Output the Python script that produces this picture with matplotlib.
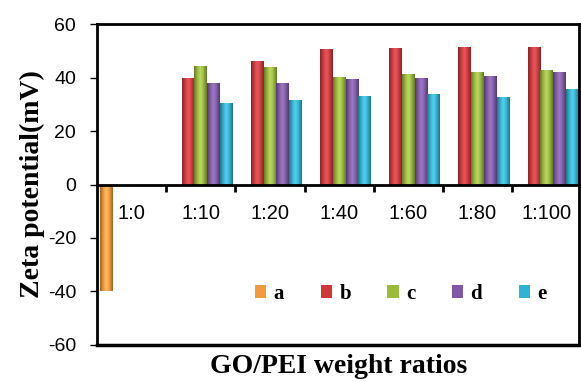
import numpy as np
import matplotlib
matplotlib.use("Agg")
import matplotlib.pyplot as plt
from matplotlib.colors import to_rgb

plt.rcParams['axes.unicode_minus'] = False

# zeta potential of GO/PEI samples
ratios = ['1:0', '1:10', '1:20', '1:40', '1:60', '1:80', '1:100']
series = ['a', 'b', 'c', 'd', 'e']
a_vals = [-40, np.nan, np.nan, np.nan, np.nan, np.nan, np.nan]
b_vals = [np.nan, 40.0, 46.2, 50.5, 51.2, 51.5, 51.5]
c_vals = [np.nan, 44.3, 44.0, 40.2, 41.5, 42.1, 42.8]
d_vals = [np.nan, 38.1, 38.1, 39.4, 40.0, 40.6, 42.0]
e_vals = [np.nan, 30.3, 31.5, 33.1, 34.0, 32.7, 35.6]
colors = ['#F39A3A', '#D0363A', '#9BBB3B', '#7F58A8', '#2FB3D3']

serif = ['Liberation Serif', 'DejaVu Serif']
sans = ['Liberation Sans', 'DejaVu Sans']

fig = plt.figure(figsize=(5.81, 3.82), dpi=100)
ax = fig.add_axes([0.167, 0.097, 0.83, 0.84])

x = np.arange(len(ratios))
w = 0.184
allvals = [a_vals, b_vals, c_vals, d_vals, e_vals]


def shade(bars, col):
    # cylinder-like shading: dark edges, light middle
    base = np.array(to_rgb(col))
    t = np.linspace(-1, 1, 40)
    f = 1 - 0.35 * np.abs(t) ** 1.5
    grad = np.clip(base[None, :] * f[:, None] + 0.12 * (1 - np.abs(t))[:, None], 0, 1)
    img = grad[None, :, :]
    for p in bars:
        h = p.get_height()
        if np.isnan(h):
            continue
        x0 = p.get_x()
        y0 = p.get_y()
        im = ax.imshow(img, extent=[x0, x0 + p.get_width(), min(y0, y0 + h), max(y0, y0 + h)],
                       aspect='auto', zorder=2.5, interpolation='bilinear')
        im.set_clip_path(p)


for i, (vals, col, name) in enumerate(zip(allvals, colors, series)):
    bars = ax.bar(x + (i - 2) * w, vals, w, color=col, label=name, zorder=2)
    shade(bars, col)

ax.set_xlim(-0.5, 6.47)
ax.set_ylim(-60, 60)
ax.set_yticks(np.arange(-60, 61, 20))
ax.tick_params(axis='y', direction='out', length=5, width=1, labelsize=14, pad=10)
for lab in ax.get_yticklabels():
    lab.set_family(sans)

# x axis sits on the zero line
ax.spines['bottom'].set_position(('data', 0))
ax.set_xticks(np.arange(len(ratios) - 1) + 0.5)
ax.set_xticklabels([])
ax.tick_params(axis='x', direction='out', length=5, width=2)
ax.set_xticks(x, minor=True)
ax.set_xticklabels(ratios, minor=True, fontsize=14.5, family=sans)
ax.tick_params(axis='x', which='minor', length=0, pad=14)
for s in ax.spines.values():
    s.set_linewidth(2)
ax.axhline(-60, color='black', lw=2.5, clip_on=False, zorder=5)

ax.set_ylabel('Zeta potential(mV)', fontsize=20, fontweight='bold', family=serif, labelpad=2)
fig.text(0.582, 0.008, 'GO/PEI weight ratios', ha='center', va='bottom',
         fontsize=20, fontweight='bold', family=serif)

ax.legend(ncol=5, loc='center', bbox_to_anchor=(0.63, 0.16), frameon=False,
          prop={'family': serif, 'weight': 'bold', 'size': 15},
          handlelength=0.55, handleheight=0.55, handletextpad=0.35, columnspacing=1.75)

fig.savefig('out.png', dpi=100)
